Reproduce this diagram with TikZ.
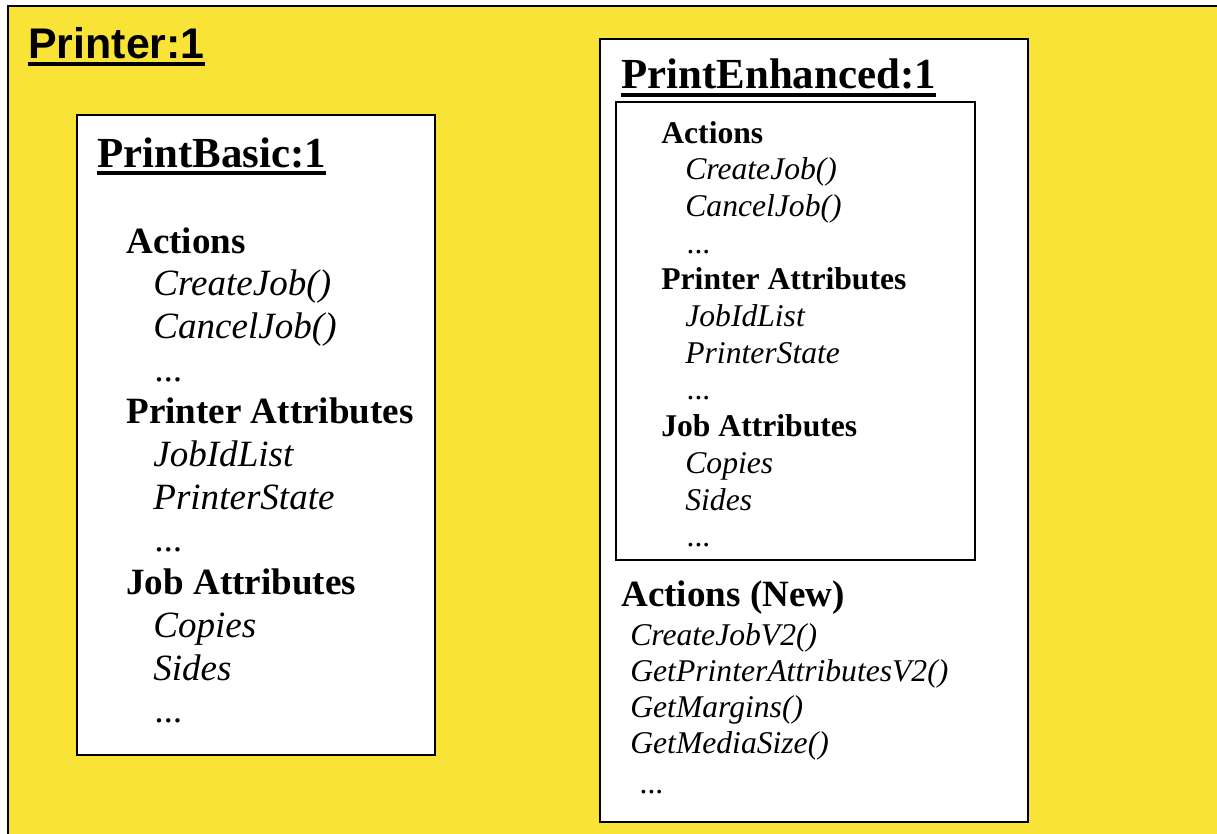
\documentclass[tikz,border=0pt]{standalone}
\usepackage{fontspec}
\setmainfont{Liberation Serif}
\newfontfamily\arialfont{Liberation Sans}
\usepackage{xcolor}
\definecolor{printeryellow}{RGB}{250,227,55}

\begin{document}
\begin{tikzpicture}[x=0.02cm,y=-0.02cm,
        txt/.style={inner sep=0pt,anchor=base west},
        head/.style={txt,font=\fontsize{24.4}{28}\selectfont\bfseries},
        sec/.style={txt,font=\fontsize{21.1}{24}\selectfont\bfseries},
        itm/.style={txt,font=\fontsize{21.1}{24}\selectfont\itshape},
        ssec/.style={txt,font=\fontsize{18}{21}\selectfont\bfseries},
        sitm/.style={txt,font=\fontsize{18}{21}\selectfont\itshape},
        box/.style={draw=black,line width=1.2pt,fill=white},
        uline/.style={line width=2.3pt}]

            \useasboundingbox (0,0) rectangle (1217,833);
            \begin{scope}
                \clip (0,0) rectangle (1217,833);
                \filldraw[fill=printeryellow,draw=black,line width=1.2pt] (8,6) rectangle (1240,860);
            \end{scope}

            % outer object
            \node[head,font=\fontsize{24.4}{28}\selectfont\bfseries\arialfont] (printer) at (28,58) {Printer:1};

            % basic part
            \draw[box] (77,115) rectangle (435,755);
            \node[head] (basic) at (97,167) {PrintBasic:1};

            \node[sec]  (b0)  at (126,253)   {Actions};
            \node[itm]  (b1)  at (153,295.7) {CreateJob()};
            \node[itm]  (b2)  at (153,338.4) {CancelJob()};
            \node[itm]  (b3)  at (155,381.1) {...};
            \node[sec]  (b4)  at (126,423.8) {Printer Attributes};
            \node[itm]  (b5)  at (153,466.5) {JobIdList};
            \node[itm]  (b6)  at (153,509.2) {PrinterState};
            \node[itm]  (b7)  at (155,551.9) {...};
            \node[sec]  (b8)  at (126,594.6) {Job Attributes};
            \node[itm]  (b9)  at (153,637.3) {Copies};
            \node[itm]  (b10) at (153,680)   {Sides};
            \node[itm]  (b11) at (155,722.7) {...};

            % enhanced part
            \draw[box] (600,39) rectangle (1028,822);
            \node[head] (enh) at (621,88) {PrintEnhanced:1};
            \draw[box] (616,102) rectangle (975,560);

            \node[ssec] (e0)  at (661,143)   {Actions};
            \node[sitm] (e1)  at (685,179.7) {CreateJob()};
            \node[sitm] (e2)  at (685,216.4) {CancelJob()};
            \node[sitm] (e3)  at (687,253.1) {...};
            \node[ssec] (e4)  at (661,289.8) {Printer Attributes};
            \node[sitm] (e5)  at (685,326.5) {JobIdList};
            \node[sitm] (e6)  at (685,363.2) {PrinterState};
            \node[sitm] (e7)  at (687,399.9) {...};
            \node[ssec] (e8)  at (661,436.6) {Job Attributes};
            \node[sitm] (e9)  at (685,473.3) {Copies};
            \node[sitm] (e10) at (685,510)   {Sides};
            \node[sitm] (e11) at (687,546.7) {...};

            \node[sec]  (n0)  at (621,606) {Actions (New)};
            \node[sitm] (n1)  at (630,645) {CreateJobV2()};
            \node[sitm] (n2)  at (630,681) {GetPrinterAttributesV2()};
            \node[sitm] (n3)  at (630,717) {GetMargins()};
            \node[sitm] (n4)  at (630,753) {GetMediaSize()};
            \node[sitm] (n5)  at (640,793) {...};

            \begin{scope}[uline]
                \draw ([yshift=-3.4pt]printer.base west) -- ([yshift=-3.4pt]printer.base east);
                \draw ([yshift=-3.2pt]basic.base west)   -- ([yshift=-3.2pt]basic.base east);
                \draw ([yshift=-3.8pt]enh.base west)     -- ([yshift=-3.8pt]enh.base east);
            \end{scope}
        \end{tikzpicture}
\end{document}
